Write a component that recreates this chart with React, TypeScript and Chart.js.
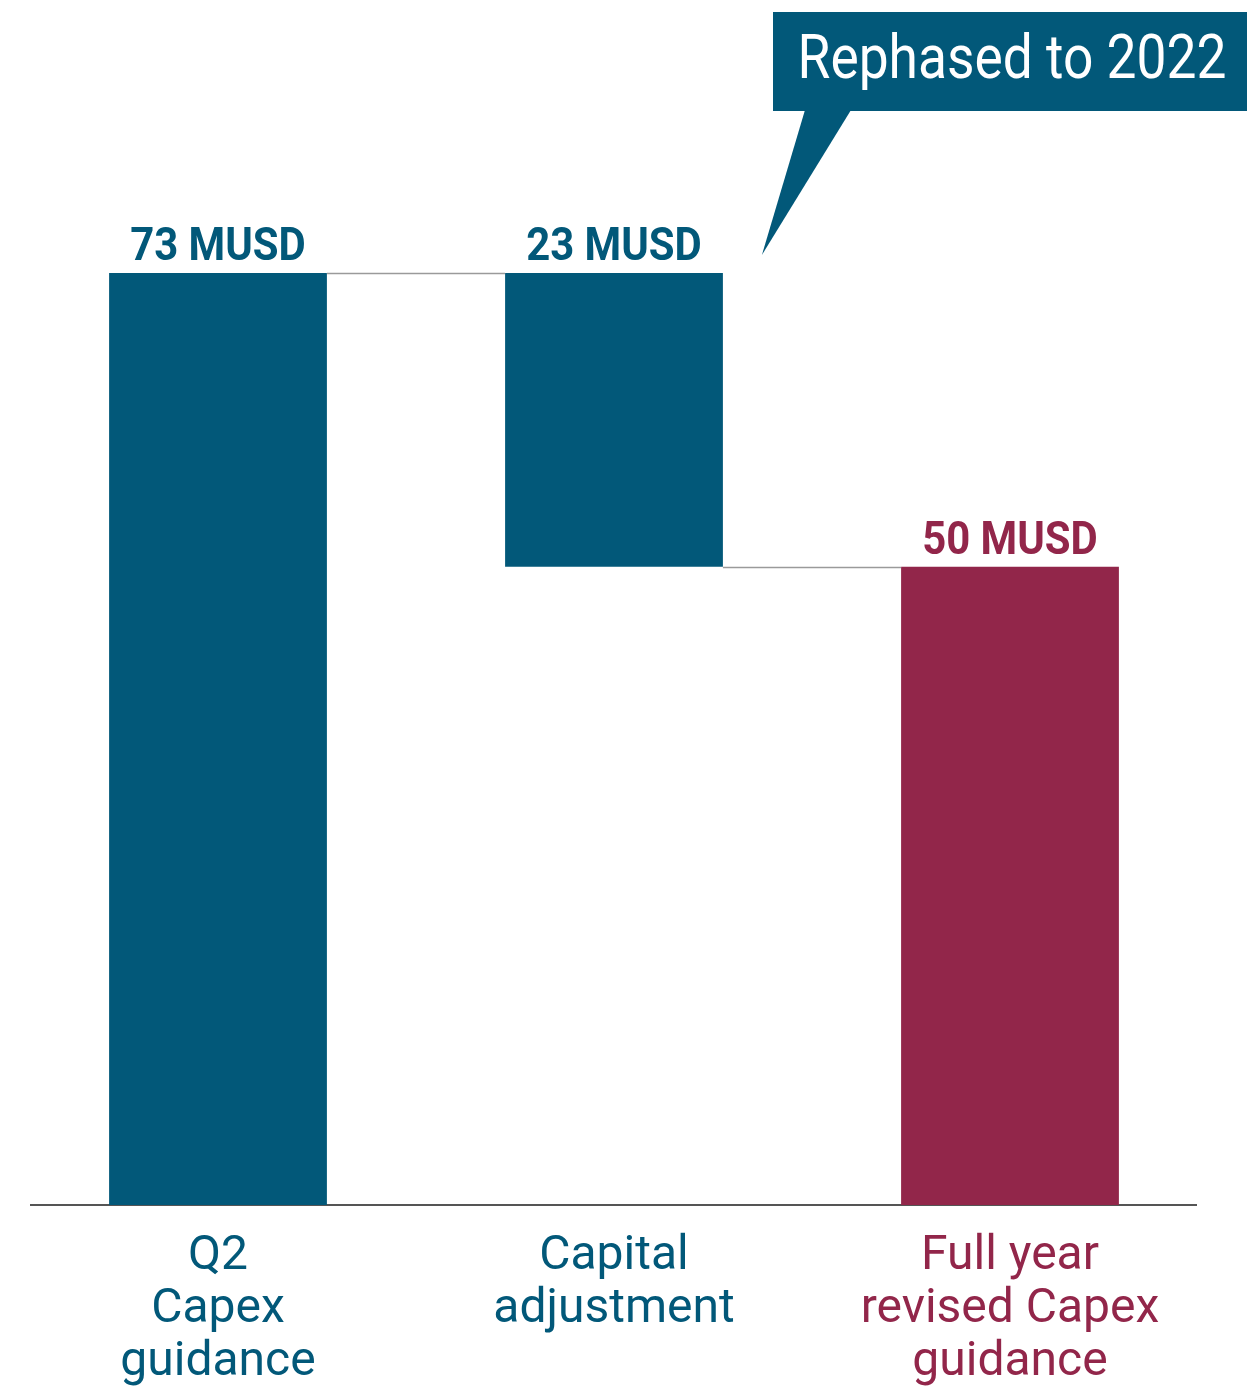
import React, { useEffect, useRef } from 'react';
import { Chart, registerables } from 'chart.js';

Chart.register(...registerables);

// ---- data ----
const categories: string[][] = [
  ['Q2', 'Capex', 'guidance'],
  ['Capital', 'adjustment'],
  ['Full year', 'revised Capex', 'guidance'],
];
const barStarts: number[] = [0, 50, 0];
const barEnds: number[] = [73, 73, 50];
const valueLabels: string[] = ['73 MUSD', '23 MUSD', '50 MUSD'];
const calloutText = 'Rephased to 2022';
const calloutBarIndex = 1;

// ---- styles ----
const TEAL = '#025879';
const MAROON = '#92264A';
const barColors: string[] = [TEAL, TEAL, MAROON];
const FONT = 'Roboto, "Liberation Sans", sans-serif';

const waterfallPlugin = {
  id: 'waterfallExtras',
  beforeDatasetsDraw(chart: any) {
    const { ctx } = chart;
    const y = chart.scales.y.getPixelForValue(0);
    ctx.save();
    ctx.strokeStyle = '#555555';
    ctx.lineWidth = 2;
    ctx.beginPath();
    ctx.moveTo(30, y);
    ctx.lineTo(1197, y);
    ctx.stroke();
    ctx.restore();
  },
  afterDatasetsDraw(chart: any) {
    const { ctx } = chart;
    const yScale = chart.scales.y;
    const meta = chart.getDatasetMeta(0);
    ctx.save();
    // connectors
    ctx.strokeStyle = '#9a9a9a';
    ctx.lineWidth = 1.5;
    for (let i = 0; i < meta.data.length - 1; i++) {
      const a = meta.data[i];
      const b = meta.data[i + 1];
      const valsA = [barStarts[i], barEnds[i]];
      const valsB = [barStarts[i + 1], barEnds[i + 1]];
      const shared = valsA.find((v) => valsB.includes(v));
      if (shared === undefined) continue;
      const y = Math.round(yScale.getPixelForValue(shared)) + 0.5;
      ctx.beginPath();
      ctx.moveTo(a.x + a.width / 2, y);
      ctx.lineTo(b.x - b.width / 2, y);
      ctx.stroke();
    }
    // value labels
    ctx.textAlign = 'center';
    ctx.textBaseline = 'alphabetic';
    ctx.font = `bold 46px ${FONT}`;
    meta.data.forEach((bar: any, i: number) => {
      const top = yScale.getPixelForValue(Math.max(barStarts[i], barEnds[i]));
      ctx.save();
      ctx.translate(bar.x, top - 13);
      ctx.scale(0.91, 1);
      ctx.fillStyle = barColors[i];
      ctx.fillText(valueLabels[i], 0, 0);
      ctx.restore();
    });
    // callout
    const cb = meta.data[calloutBarIndex];
    const cbTop = yScale.getPixelForValue(Math.max(barStarts[calloutBarIndex], barEnds[calloutBarIndex]));
    const tipX = cb.x + cb.width / 2 + 39;
    const tipY = cbTop - 18;
    const boxL = 773;
    const boxT = 12;
    const boxR = chart.width;
    const boxB = 111;
    ctx.fillStyle = TEAL;
    ctx.fillRect(boxL, boxT, boxR - boxL, boxB - boxT);
    ctx.beginPath();
    ctx.moveTo(805, boxB - 1);
    ctx.lineTo(851, boxB - 1);
    ctx.lineTo(tipX, tipY);
    ctx.closePath();
    ctx.fill();
    ctx.save();
    ctx.font = `62px ${FONT}`;
    ctx.fillStyle = '#ffffff';
    ctx.textAlign = 'center';
    ctx.textBaseline = 'alphabetic';
    ctx.translate(1012, 78);
    ctx.scale(0.86, 1);
    ctx.fillText(calloutText, 0, 0);
    ctx.restore();
    ctx.restore();
  },
};

export default function App() {
  const ref = useRef<HTMLCanvasElement | null>(null);
  useEffect(() => {
    if (!ref.current) return;
    const chart = new Chart(ref.current, {
      type: 'bar',
      data: {
        labels: categories,
        datasets: [
          {
            data: barStarts.map((s, i) => [s, barEnds[i]]) as any,
            backgroundColor: barColors,
            borderWidth: 0,
            barPercentage: 0.55,
            categoryPercentage: 1,
          },
        ],
      },
      options: {
        responsive: false,
        animation: false,
        layout: { padding: { left: 20, right: 39, top: 56, bottom: 0 } },
        plugins: { legend: { display: false }, tooltip: { enabled: false } },
        scales: {
          x: {
            grid: { display: false, drawTicks: false },
            border: { display: false },
            afterFit: (scale: any) => {
              scale.height = 181;
            },
            ticks: {
              padding: 25,
              maxRotation: 0,
              autoSkip: false,
              font: { family: FONT, size: 48, lineHeight: '53px' as any },
              color: (c: any) => barColors[c.index] || TEAL,
            },
          },
          y: { display: false, min: 0, max: 90 },
        },
      },
      plugins: [waterfallPlugin],
    });
    return () => chart.destroy();
  }, []);
  return (
    <div style={{ position: 'absolute', left: 0, top: 0, width: 1247, height: 1386, background: '#fff' }}>
      <canvas ref={ref} width={1247} height={1386} style={{ display: 'block' }} />
    </div>
  );
}
